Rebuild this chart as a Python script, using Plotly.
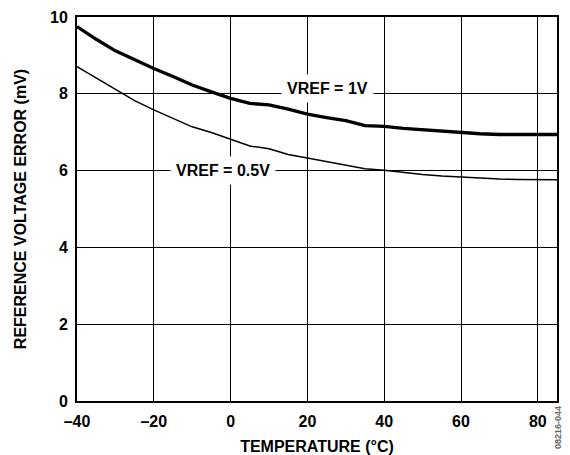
import plotly.graph_objects as go

# temperature (degC) and reference voltage error (mV)
temps = [-40, -35, -30, -25, -20, -15, -10, -5, 0, 5, 10, 15, 20, 25, 30, 35,
         40, 45, 50, 55, 60, 65, 70, 75, 80, 85]
err_vref_1v = [9.75, 9.42, 9.12, 8.88, 8.66, 8.45, 8.23, 8.05, 7.88, 7.75, 7.71,
               7.60, 7.47, 7.38, 7.30, 7.17, 7.15, 7.10, 7.06, 7.02, 6.99, 6.96,
               6.94, 6.94, 6.94, 6.94]
err_vref_05v = [8.71, 8.42, 8.11, 7.82, 7.58, 7.35, 7.14, 6.99, 6.82, 6.64, 6.57,
                6.42, 6.33, 6.24, 6.15, 6.05, 6.01, 5.95, 5.90, 5.86, 5.83, 5.80,
                5.78, 5.77, 5.76, 5.76]

x_tickvals = [-40, -20, 0, 20, 40, 60, 80]
x_ticktext = ['–40', '–20', '0', '20', '40', '60', '80']
y_tickvals = [0, 2, 4, 6, 8, 10]

font_family = 'Arial, Liberation Sans, sans-serif'
bold16 = dict(family=font_family, size=16, color='black', weight='bold')

fig = go.Figure()
fig.add_trace(go.Scatter(x=temps, y=err_vref_1v, mode='lines',
                         line=dict(color='black', width=3.3), name='VREF = 1V'))
fig.add_trace(go.Scatter(x=temps, y=err_vref_05v, mode='lines',
                         line=dict(color='black', width=1.5), name='VREF = 0.5V'))

fig.add_annotation(x=25.2, y=8.15, text='VREF = 1V', showarrow=False,
                   bgcolor='white', borderpad=5, font=bold16)
fig.add_annotation(x=-2.0, y=6.0, text='VREF = 0.5V', showarrow=False,
                   bgcolor='white', borderpad=5, font=bold16)
# small figure id on the right edge
fig.add_annotation(xref='paper', yref='paper', x=1.018, y=-0.13,
                   text='08216-044', showarrow=False, textangle=-90,
                   font=dict(family=font_family, size=9, color='#666666'))

# page body has an 8px margin, so the figure is 8px smaller than the window
fig.update_layout(
    width=562,
    height=447,
    margin=dict(l=69, r=13, t=9, b=54),
    plot_bgcolor='white',
    paper_bgcolor='white',
    showlegend=False,
    font=bold16,
    xaxis=dict(
        range=[-40, 85],
        tickvals=x_tickvals,
        ticktext=x_ticktext,
        showgrid=True, gridcolor='black', gridwidth=1,
        showline=True, linecolor='black', linewidth=2, mirror=True,
        zeroline=False,
        ticks='',
        ticklabelstandoff=5,
        automargin=False,
        title=dict(text='TEMPERATURE (°C)', standoff=12, font=bold16),
    ),
    yaxis=dict(
        range=[0, 10],
        tickvals=y_tickvals,
        showgrid=True, gridcolor='black', gridwidth=1,
        showline=True, linecolor='black', linewidth=2, mirror=True,
        zeroline=False,
        ticks='',
        ticklabelstandoff=4,
        automargin=False,
        title=dict(text='REFERENCE VOLTAGE ERROR (mV)', standoff=19, font=bold16),
    ),
)

fig.write_html('out.html')
